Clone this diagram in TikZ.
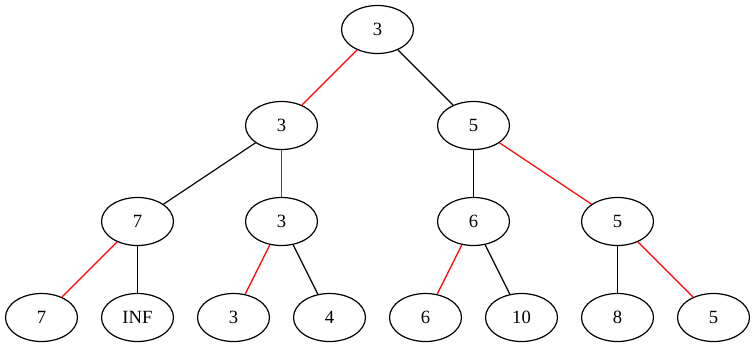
\documentclass[tikz,border=0pt]{standalone}
\usepackage{fontspec}
\setmainfont{Liberation Serif}
\usetikzlibrary{shapes.geometric}
\begin{document}
\begin{tikzpicture}[x=1bp,y=-1bp,
  tn/.style={draw,ellipse,minimum width=72bp,minimum height=48bp,inner sep=0pt,line width=1.2bp,font=\fontsize{18.67bp}{21bp}\selectfont},
  eb/.style={draw=black,line width=1.2bp},
  er/.style={draw=red,line width=1.2bp}]
\useasboundingbox (0,0) rectangle (755,347);
\node[tn] (r) at (377.5,29.5) {3};
\node[tn] (a) at (281.5,125.5) {3};
\node[tn] (b) at (473.5,125.5) {5};
\node[tn] (c) at (137.5,221.5) {7};
\node[tn] (d) at (281.5,221.5) {3};
\node[tn] (e) at (473.5,221.5) {6};
\node[tn] (f) at (617.5,221.5) {5};
\node[tn] (l1) at (41.5,317.5) {7};
\node[tn] (l2) at (137.5,317.5) {INF};
\node[tn] (l3) at (233.5,317.5) {3};
\node[tn] (l4) at (329.5,317.5) {4};
\node[tn] (l5) at (425.5,317.5) {6};
\node[tn] (l6) at (521.5,317.5) {10};
\node[tn] (l7) at (617.5,317.5) {8};
\node[tn] (l8) at (713.5,317.5) {5};
\draw[er] (r) -- (a);
\draw[eb] (r) -- (b);
\draw[eb] (a) -- (c);
\draw[er] (a) -- (d);
\draw[eb] (b) -- (e);
\draw[er] (b) -- (f);
\draw[er] (c) -- (l1);
\draw[eb] (c) -- (l2);
\draw[er] (d) -- (l3);
\draw[eb] (d) -- (l4);
\draw[er] (e) -- (l5);
\draw[eb] (e) -- (l6);
\draw[eb] (f) -- (l7);
\draw[er] (f) -- (l8);
\end{tikzpicture}
\end{document}
